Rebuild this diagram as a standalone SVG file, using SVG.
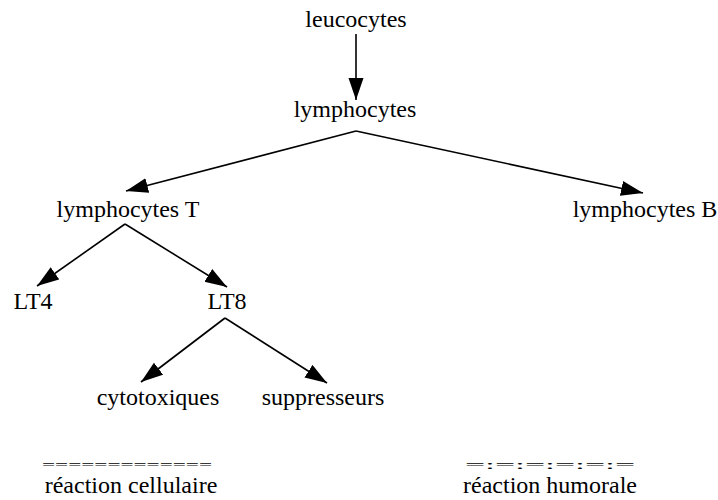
<svg xmlns="http://www.w3.org/2000/svg" width="718" height="500" viewBox="0 0 718 500">
<style>
text{font-family:"Liberation Serif","Times New Roman",serif;font-size:24px;fill:#000}
.c line{stroke:#000;stroke-width:1.6;fill:none}
.sym{font-size:13px}
</style>
<defs>
<marker id="ah" markerUnits="userSpaceOnUse" markerWidth="24" markerHeight="16" refX="22" refY="7.5" orient="auto">
<path d="M0,0 L22,7.5 L0,15 Z" fill="#000"/>
</marker>
</defs>
<rect width="718" height="500" fill="#fff"/>
<g class="c" id="connectors">
<line x1="356" y1="34" x2="356" y2="100" marker-end="url(#ah)"/>
<line x1="356" y1="131" x2="126" y2="191" marker-end="url(#ah)"/>
<line x1="356" y1="131" x2="643" y2="193" marker-end="url(#ah)"/>
<line x1="125" y1="224" x2="37" y2="286" marker-end="url(#ah)"/>
<line x1="125" y1="224" x2="227" y2="287" marker-end="url(#ah)"/>
<line x1="225" y1="318" x2="141" y2="382" marker-end="url(#ah)"/>
<line x1="225" y1="318" x2="327" y2="383" marker-end="url(#ah)"/>
</g>
<g id="leucocytes"><text x="356" y="27" text-anchor="middle">leucocytes</text></g>
<g id="lymphocytes"><text x="355" y="117" text-anchor="middle">lymphocytes</text></g>
<g id="lymphocytesT"><text x="128" y="217" text-anchor="middle">lymphocytes T</text></g>
<g id="lymphocytesB"><text x="645" y="217" text-anchor="middle">lymphocytes B</text></g>
<g id="LT4"><text x="33" y="309" text-anchor="middle">LT4</text></g>
<g id="LT8"><text x="227" y="309" text-anchor="middle">LT8</text></g>
<g id="cytotoxiques"><text x="158" y="405" text-anchor="middle">cytotoxiques</text></g>
<g id="suppresseurs"><text x="323" y="405" text-anchor="middle">suppresseurs</text></g>
<g id="legend-cellulaire">
<text class="sym" x="42" y="469" textLength="170" lengthAdjust="spacingAndGlyphs">=============</text>
<text x="131" y="493" text-anchor="middle">réaction cellulaire</text>
</g>
<g id="legend-humorale">
<text class="sym" x="465" y="469" textLength="170" lengthAdjust="spacingAndGlyphs">=:=:=:=:=:=</text>
<text x="550" y="493" text-anchor="middle">réaction humorale</text>
</g>
</svg>
